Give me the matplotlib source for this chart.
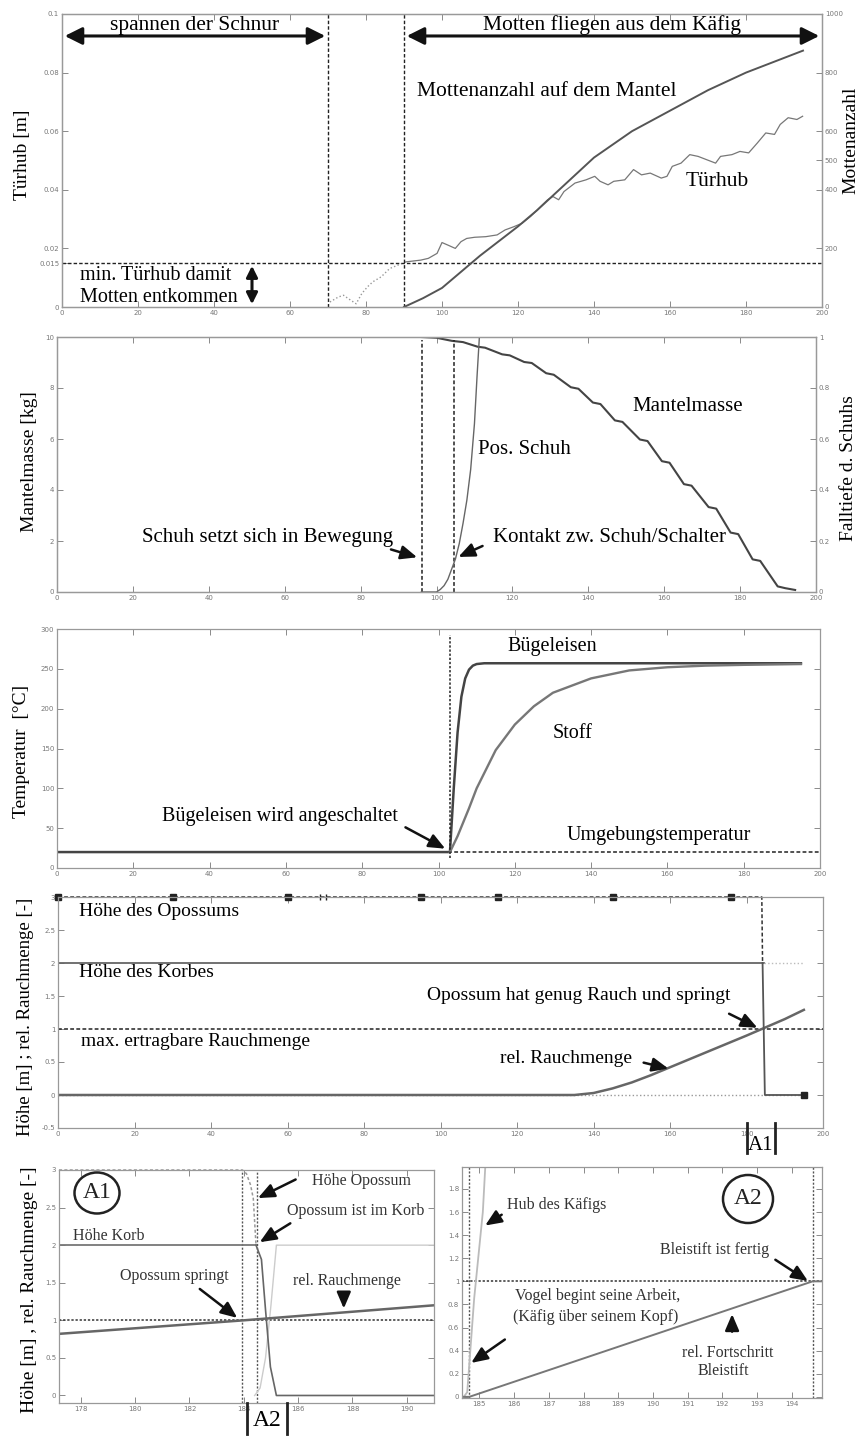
import matplotlib
matplotlib.use("Agg")
import matplotlib.pyplot as plt
from matplotlib.lines import Line2D
from matplotlib.patches import Ellipse

plt.rcParams['font.family'] = ['Liberation Serif', 'DejaVu Serif']

W, H = 863, 1437

# ---------- Panel 1: Türhub / Mottenanzahl
hub_x = [70.5, 72.7, 74.1, 75.3, 77.4, 78.9, 80.4, 81.8, 84, 86.2, 88.4, 90.5,
         94.4, 96.4, 98.7, 100, 101.6, 103.5, 105, 106.5, 108.6, 111.5, 114.5,
         116.6, 118.9, 121.1, 123.3, 125.5, 127.8, 129.2, 130.7, 132.1, 135,
         137.9, 140.2, 141.6, 143.7, 145.2, 148.1, 150.4, 152.5, 154.8, 157.7,
         159.2, 160.6, 162.9, 165.2, 167.4, 169.6, 172, 173.3, 176.3, 178.4,
         180.7, 183, 185.2, 187.5, 189, 191.1, 193.4, 194.9]
hub_y = [0.0017, 0.0034, 0.004, 0.0029, 0.0011, 0.0046, 0.0069, 0.0086, 0.0103,
         0.0131, 0.0143, 0.0154, 0.016, 0.0166, 0.0183, 0.022, 0.0211, 0.020,
         0.0223, 0.0234, 0.0238, 0.024, 0.0246, 0.0263, 0.0274, 0.0286, 0.0309,
         0.0337, 0.0366, 0.0377, 0.0366, 0.0394, 0.0423, 0.0434, 0.0446, 0.0429,
         0.0417, 0.0429, 0.0434, 0.0469, 0.0451, 0.0457, 0.044, 0.0446, 0.048,
         0.0491, 0.052, 0.0514, 0.0503, 0.0491, 0.0514, 0.052, 0.0531, 0.0526,
         0.056, 0.0594, 0.0589, 0.0623, 0.0646, 0.064, 0.0651]
motten_x = [90, 95, 100, 105, 110, 115, 120, 125, 130, 140, 150, 160, 170, 180, 190, 195]
motten_n = [0, 30, 65, 120, 175, 225, 275, 330, 390, 510, 600, 670, 740, 800, 850, 875]
min_hub = 0.015

# ---------- Panel 2: Mantelmasse / Pos. Schuh
masse_x = [96, 100, 104, 107, 110.8, 112.8, 117.3, 119.3, 123.1, 125.1, 128.9,
           130.9, 135.4, 137.4, 141.2, 143.2, 147, 149, 153.6, 155.6, 159.4,
           161.4, 165.2, 167.2, 171.7, 173.7, 177.5, 179.5, 183.3, 185.3, 189.9,
           191.9, 194.5]
masse_y = [10, 9.97, 9.85, 9.8, 9.62, 9.58, 9.32, 9.28, 9.02, 8.98, 8.58, 8.52,
           8.03, 7.97, 7.43, 7.37, 6.73, 6.67, 5.98, 5.92, 5.13, 5.07, 4.23, 4.17,
           3.33, 3.27, 2.33, 2.27, 1.28, 1.22, 0.22, 0.15, 0.08]
schuh_x = [96, 100, 101, 102, 103, 104, 105, 106, 107, 108, 109, 110, 110.7, 111.3]
schuh_y = [0, 0, 0.01, 0.025, 0.05, 0.09, 0.13, 0.19, 0.27, 0.36, 0.48, 0.66, 0.85, 1.0]

# ---------- Panel 3: Temperatur
eisen_x = [0, 103, 103.5, 104, 105, 106, 107, 108, 109, 110, 112, 195]
eisen_y = [20, 20, 60, 100, 170, 215, 238, 249, 254, 256, 257, 257]
stoff_x = [103, 105, 108, 110, 115, 120, 125, 130, 140, 150, 160, 170, 180, 195]
stoff_y = [20, 40, 75, 100, 148, 180, 203, 220, 238, 248, 252, 254, 255, 256]
umgebung = 20

# ---------- Panel 4: Opossum
opo_x = [0, 184, 184.2, 184.8, 195]
opo_y = [3, 3, 2, 0, 0]
opo_marker_x = [0, 30, 60, 95, 115, 145, 176]
korb_x = [0, 184.5, 195]
korb_y = [2, 2, 2]
rauch_x = [0, 135, 140, 145, 150, 155, 160, 165, 170, 175, 180, 184, 190, 195]
rauch_y = [0, 0, 0.03, 0.1, 0.19, 0.3, 0.42, 0.54, 0.66, 0.78, 0.9, 1.0, 1.15, 1.29]

# ---------- Panel A1 (zoom)
a1_rauch_x = [177.2, 184, 191]
a1_rauch_y = [0.82, 1.0, 1.2]
a1_opo_x = [177.2, 183.95, 184.1, 184.25, 184.35, 184.45, 184.65, 184.8, 184.98, 185.2, 191]
a1_opo_y = [3, 3, 2.95, 2.8, 2.62, 2.0, 1.81, 1.14, 0.38, 0, 0]
a1_korb_x = [177.2, 184.45]
a1_faint_x = [184.4, 184.6, 184.8, 185.0, 185.2, 191]
a1_faint_y = [0, 0.1, 0.5, 1.2, 2.0, 2.0]

# ---------- Panel A2 (zoom)
a2_kaefig_x = [184.55, 184.65, 184.71, 184.85, 185.0, 185.1, 185.17]
a2_kaefig_y = [0, 0.04, 0.28, 0.85, 1.3, 1.6, 1.99]
a2_blei_x = [184.5, 184.71, 194.6, 194.87]
a2_blei_y = [0, 0, 1.0, 1.0]

fig = plt.figure(figsize=(W / 100, H / 100), dpi=100)


def add_ax(l, t, r, b):
    return fig.add_axes([l / W, 1 - b / H, (r - l) / W, (b - t) / H])


def style(ax, right=True):
    for s in ax.spines.values():
        s.set_color('#999999')
        s.set_linewidth(0.9)
    ax.tick_params(direction='in', length=4, width=0.6, colors='#777777',
                   labelsize=5, top=True, right=right, pad=2,
                   labelfontfamily='DejaVu Sans')


def fig_line(x0, y0, x1, y1, lw=2):
    fig.add_artist(Line2D([x0 / W, x1 / W], [1 - y0 / H, 1 - y1 / H],
                          transform=fig.transFigure, color='#222222', lw=lw))


def circle(cx, cy, w, h, label):
    fig.add_artist(Ellipse((cx / W, 1 - cy / H), w / W, h / H, transform=fig.transFigure,
                           fill=False, ec='#222222', lw=1.8))
    fig.text(cx / W, 1 - cy / H, label, ha='center', va='center', fontsize=17, color='#222222')


dash = (0, (2.5, 1.5))
arrow = dict(arrowstyle='-|>,head_length=0.7,head_width=0.3', color='#111111', lw=1.8,
             mutation_scale=14)
darrow = dict(arrowstyle='<|-|>,head_length=0.7,head_width=0.35', color='#111111', lw=2.2,
              mutation_scale=15)
darrow_small = dict(arrowstyle='<|-|>,head_length=0.6,head_width=0.3', color='#111111', lw=2.2,
                    mutation_scale=11)

# ===== Panel 1
ax1 = add_ax(62, 14, 822, 307)
style(ax1, right=False)
ax1.set_xlim(0, 200)
ax1.set_ylim(0, 0.1)
ax1.set_xticks(range(0, 201, 20))
ax1.set_yticks([0, 0.015, 0.02, 0.04, 0.06, 0.08, 0.1])
ax1.set_yticklabels(['0', '0.015', '0.02', '0.04', '0.06', '0.08', '0.1'])
ax1r = ax1.twinx()
style(ax1r)
ax1r.tick_params(left=False, top=False)
ax1r.set_ylim(0, 1000)
ax1r.set_yticks([0, 200, 400, 500, 600, 800, 1000])
ax1r.set_yticklabels(['0', '200', '400', '500', '600', '800', '1000'])
ax1r.plot(motten_x, motten_n, color='#555555', lw=1.4)
k = 12
ax1.plot(hub_x[:k], hub_y[:k], ':', color='#999999', lw=1)
ax1.plot(hub_x[k - 1:], hub_y[k - 1:], '-', color='#777777', lw=0.9)
ax1.axvline(70, ls=dash, color='#222222', lw=1)
ax1.axvline(90, ls=dash, color='#222222', lw=1)
ax1.axhline(min_hub, ls=dash, color='#222222', lw=1)
ax1.annotate('', xy=(0, 0.0925), xytext=(70, 0.0925), arrowprops=darrow)
ax1.annotate('', xy=(90, 0.0925), xytext=(200, 0.0925), arrowprops=darrow)
ax1.annotate('', xy=(50, 0), xytext=(50, min_hub), arrowprops=darrow_small)
ax1.text(35, 0.0962, 'spannen der Schnur', ha='center', va='center', fontsize=15.5)
ax1.text(144.7, 0.0962, 'Motten fliegen aus dem Käfig', ha='center', va='center', fontsize=15.5)
ax1.text(93.4, 0.0734, 'Mottenanzahl auf dem Mantel', ha='left', va='center', fontsize=15.5)
ax1.text(164, 0.0427, 'Türhub', ha='left', va='center', fontsize=15.5)
ax1.text(4.7, 0.0109, 'min. Türhub damit', ha='left', va='center', fontsize=14.5)
ax1.text(4.7, 0.0033, 'Motten entkommen', ha='left', va='center', fontsize=14.5)
fig.text(22 / W, 1 - 155 / H, 'Türhub [m]', rotation=90, ha='center', va='center', fontsize=14)
fig.text(851 / W, 1 - 140 / H, 'Mottenanzahl', rotation=90, ha='center', va='center', fontsize=14)

# ===== Panel 2
ax2 = add_ax(57, 337, 816, 592)
style(ax2, right=False)
ax2.set_xlim(0, 200)
ax2.set_ylim(0, 10)
ax2.set_xticks(range(0, 201, 20))
ax2.set_yticks(range(0, 11, 2))
ax2r = ax2.twinx()
style(ax2r)
ax2r.tick_params(left=False, top=False)
ax2r.set_ylim(0, 1)
ax2r.set_yticks([0, 0.2, 0.4, 0.6, 0.8, 1])
ax2r.set_yticklabels(['0', '0.2', '0.4', '0.6', '0.8', '1'])
ax2.plot(masse_x, masse_y, color='#444444', lw=1.5)
ax2r.plot(schuh_x, schuh_y, color='#666666', lw=1.0)
ax2.plot([96.1, 96.1], [0, 9.9], ls=dash, color='#222222', lw=1.1)
ax2.plot([104.6, 104.6], [0, 9.9], ls=dash, color='#222222', lw=1.1)
ax2.text(151.6, 7.27, 'Mantelmasse', ha='left', va='center', fontsize=15)
ax2.text(111, 5.57, 'Pos. Schuh', ha='left', va='center', fontsize=15)
ax2.text(22.5, 2.12, 'Schuh setzt sich in Bewegung', ha='left', va='center', fontsize=15)
ax2.text(115, 2.12, 'Kontakt zw. Schuh/Schalter', ha='left', va='center', fontsize=15)
ax2.annotate('', xy=(95.6, 1.33), xytext=(87.3, 1.7), arrowprops=arrow)
ax2.annotate('', xy=(105.1, 1.33), xytext=(112.8, 1.85), arrowprops=arrow)
fig.text(29 / W, 1 - 462 / H, 'Mantelmasse [kg]', rotation=90, ha='center', va='center', fontsize=14)
fig.text(848 / W, 1 - 468 / H, 'Falltiefe d. Schuhs', rotation=90, ha='center', va='center', fontsize=14)

# ===== Panel 3
ax3 = add_ax(57, 629, 820, 868)
style(ax3)
ax3.set_xlim(0, 200)
ax3.set_ylim(0, 300)
ax3.set_xticks(range(0, 201, 20))
ax3.set_yticks(range(0, 301, 50))
ax3.axhline(umgebung, ls=dash, color='#222222', lw=1.1)
ax3.plot(eisen_x, eisen_y, color='#444444', lw=1.8)
ax3.plot(stoff_x, stoff_y, color='#777777', lw=1.7)
ax3.plot([103, 103], [13, 292], ls=(0, (1.5, 1.2)), color='#222222', lw=1.1)
ax3.text(118.2, 278, 'Bügeleisen', ha='left', va='center', fontsize=14.5)
ax3.text(129.8, 169, 'Stoff', ha='left', va='center', fontsize=14.5)
ax3.text(133.5, 41, 'Umgebungstemperatur', ha='left', va='center', fontsize=14.5)
ax3.text(27.5, 64.4, 'Bügeleisen wird angeschaltet', ha='left', va='center', fontsize=14.5)
ax3.annotate('', xy=(102.4, 22.6), xytext=(90.7, 52.7), arrowprops=arrow)
fig.text(22 / W, 1 - 751 / H, 'Temperatur  [°C]', rotation=90, ha='center', va='center', fontsize=14)

# ===== Panel 4
ax4 = add_ax(58, 897, 823, 1128)
style(ax4)
ax4.set_xlim(0, 200)
ax4.set_ylim(-0.5, 3)
ax4.set_xticks(range(0, 201, 20))
ax4.set_yticks([-0.5, 0, 0.5, 1, 1.5, 2, 2.5, 3])
ax4.set_yticklabels(['-0.5', '0', '0.5', '1', '1.5', '2', '2.5', '3'])
ax4.axhline(1, ls=dash, color='#222222', lw=1.1)
ax4.plot(korb_x[:2], korb_y[:2], color='#666666', lw=1.3)
ax4.plot(korb_x[1:], korb_y[1:], ':', color='#bbbbbb', lw=1)
ax4.plot([0, 195], [0, 0], ':', color='#999999', lw=1)
ax4.plot(rauch_x, rauch_y, color='#666666', lw=1.8)
ax4.plot(opo_x[:3], opo_y[:3], ls=dash, color='#333333', lw=1.1, clip_on=False)
ax4.plot(opo_x[2:], opo_y[2:], color='#555555', lw=1.3)
ax4.plot(opo_marker_x, [3] * len(opo_marker_x), 's', color='#222222', ms=4.5, clip_on=False)
ax4.plot([68.5, 70], [3, 3], '|', color='#222222', ms=5, clip_on=False)
ax4.plot([195], [0], 's', color='#222222', ms=4.5)
ax4.text(5.5, 2.78, 'Höhe des Opossums', ha='left', va='center', fontsize=14)
ax4.text(5.5, 1.85, 'Höhe des Korbes', ha='left', va='center', fontsize=14)
ax4.text(6, 0.81, 'max. ertragbare Rauchmenge', ha='left', va='center', fontsize=14)
ax4.text(96.5, 1.515, 'Opossum hat genug Rauch und springt', ha='left', va='center', fontsize=14)
ax4.text(115.5, 0.556, 'rel. Rauchmenge', ha='left', va='center', fontsize=14)
ax4.annotate('', xy=(183.5, 1.0), xytext=(174.8, 1.25), arrowprops=arrow)
ax4.annotate('', xy=(160.3, 0.39), xytext=(152.4, 0.5), arrowprops=arrow)
fig.text(25 / W, 1 - 1017 / H, 'Höhe [m] ; rel. Rauchmenge [-]', rotation=90,
         ha='center', va='center', fontsize=13.5)
fig_line(747, 1123, 747, 1153)
fig_line(775, 1123, 775, 1153)
fig.text(761 / W, 1 - 1146 / H, 'A1', ha='center', va='center', fontsize=15)

# ===== Panel A1
ax5 = add_ax(59, 1170, 434, 1403)
style(ax5)
ax5.set_xlim(177.2, 191.0)
ax5.set_ylim(-0.1, 3.0)
ax5.set_xticks(range(178, 191, 2))
ax5.set_yticks([0, 0.5, 1, 1.5, 2, 2.5, 3])
ax5.set_yticklabels(['0', '0.5', '1', '1.5', '2', '2.5', '3'])
ax5.axhline(1, ls=(0, (1.5, 1.2)), color='#333333', lw=1.1)
ax5.axvline(183.95, ls=(0, (1.5, 1.2)), color='#555555', lw=1)
ax5.axvline(184.5, ls=(0, (1.5, 1.2)), color='#555555', lw=1)
ax5.plot(a1_faint_x, a1_faint_y, color='#cccccc', lw=1)
ax5.plot(a1_korb_x, [2, 2], color='#777777', lw=1.3)
ax5.plot(a1_opo_x[:6], a1_opo_y[:6], ls=(0, (2, 1.5)), color='#999999', lw=1.1, clip_on=False)
ax5.plot(a1_opo_x[5:], a1_opo_y[5:], color='#666666', lw=1.2)
ax5.plot(a1_rauch_x, a1_rauch_y, color='#666666', lw=1.8)
ax5.text(186.5, 2.86, 'Höhe Opossum', ha='left', va='center', fontsize=11.5, color='#333333')
ax5.text(185.6, 2.45, 'Opossum ist im Korb', ha='left', va='center', fontsize=11.5, color='#333333')
ax5.text(177.7, 2.12, 'Höhe Korb', ha='left', va='center', fontsize=11.5, color='#333333')
ax5.text(179.45, 1.59, 'Opossum springt', ha='left', va='center', fontsize=11.5, color='#333333')
ax5.text(185.8, 1.52, 'rel. Rauchmenge', ha='left', va='center', fontsize=11.5, color='#333333')
ax5.annotate('', xy=(184.43, 2.61), xytext=(186.0, 2.89), arrowprops=arrow)
ax5.annotate('', xy=(184.5, 2.02), xytext=(185.8, 2.31), arrowprops=arrow)
ax5.annotate('', xy=(183.84, 1.01), xytext=(182.3, 1.44), arrowprops=arrow)
ax5.annotate('', xy=(187.68, 1.12), xytext=(187.68, 1.32), arrowprops=arrow)
circle(97, 1193, 45, 41, 'A1')
fig.text(29 / W, 1 - 1290 / H, 'Höhe [m] , rel. Rauchmenge [-]', rotation=90,
         ha='center', va='center', fontsize=14)
fig_line(247, 1403, 247, 1434)
fig_line(287, 1403, 287, 1434)
fig.text(267 / W, 1 - 1420 / H, 'A2', ha='center', va='center', fontsize=17)

# ===== Panel A2
ax6 = add_ax(462, 1167, 822, 1398)
style(ax6)
ax6.set_xlim(184.5, 194.87)
ax6.set_ylim(-0.01, 1.99)
ax6.set_xticks(range(185, 195))
ax6.set_yticks([0, 0.2, 0.4, 0.6, 0.8, 1, 1.2, 1.4, 1.6, 1.8])
ax6.set_yticklabels(['0', '0.2', '0.4', '0.6', '0.8', '1', '1.2', '1.4', '1.6', '1.8'])
ax6.axhline(1, ls=(0, (1.5, 1.2)), color='#333333', lw=1.1)
ax6.axvline(184.71, ls=(0, (1.5, 1.2)), color='#555555', lw=1)
ax6.axvline(194.6, ls=(0, (1.5, 1.2)), color='#555555', lw=1)
ax6.plot(a2_kaefig_x, a2_kaefig_y, color='#bbbbbb', lw=1.3)
ax6.plot(a2_blei_x, a2_blei_y, color='#777777', lw=1.4)
ax6.text(185.8, 1.66, 'Hub des Käfigs', ha='left', va='center', fontsize=11.5, color='#333333')
ax6.text(190.2, 1.27, 'Bleistift ist fertig', ha='left', va='center', fontsize=11.5, color='#333333')
ax6.text(186.03, 0.87, 'Vogel begint seine Arbeit,', ha='left', va='center', fontsize=11.5, color='#333333')
ax6.text(185.97, 0.69, '(Käfig über seinem Kopf)', ha='left', va='center', fontsize=11.5, color='#333333')
ax6.text(192.14, 0.38, 'rel. Fortschritt', ha='center', va='center', fontsize=11.5, color='#333333')
ax6.text(192.02, 0.22, 'Bleistift', ha='center', va='center', fontsize=11.5, color='#333333')
ax6.annotate('', xy=(185.1, 1.47), xytext=(185.71, 1.59), arrowprops=arrow)
ax6.annotate('', xy=(194.53, 0.99), xytext=(193.46, 1.2), arrowprops=arrow)
ax6.annotate('', xy=(184.7, 0.28), xytext=(185.8, 0.51), arrowprops=arrow)
ax6.annotate('', xy=(192.28, 0.74), xytext=(192.28, 0.54), arrowprops=arrow)
circle(748, 1199, 50, 48, 'A2')

fig.savefig('out.png', dpi=100)
